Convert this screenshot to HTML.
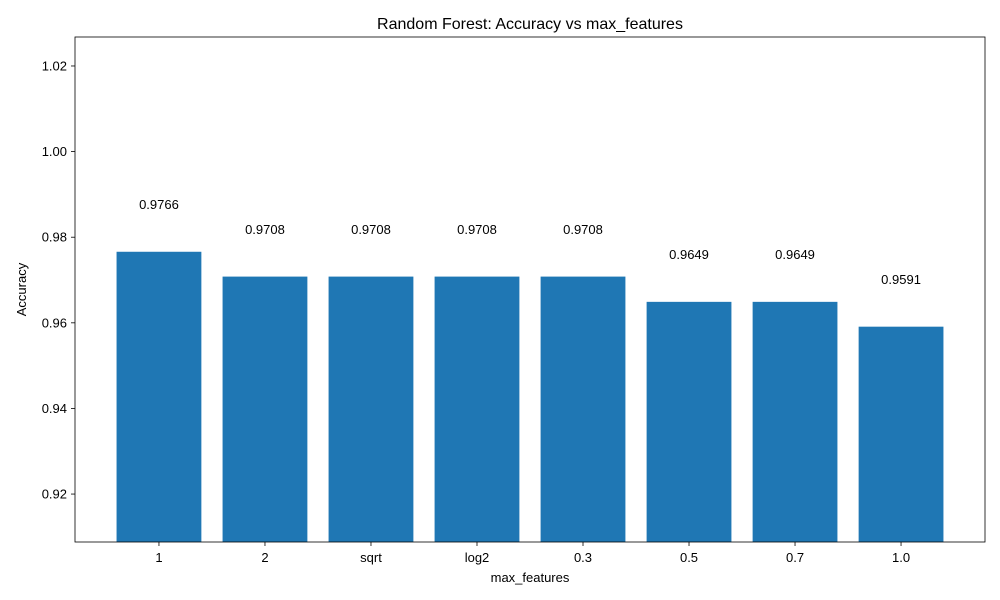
<!DOCTYPE html>
<html><head><meta charset="utf-8">
<style>
html,body{margin:0;padding:0;background:#fff;}
svg{display:block;font-family:"Liberation Sans","DejaVu Sans",sans-serif;}
</style></head>
<body>
<svg id="chart" width="1000" height="600" viewBox="0 0 1000 600"></svg>
<script>
const categories = ["1","2","sqrt","log2","0.3","0.5","0.7","1.0"];
const accuracyValues = [0.9766,0.9708,0.9708,0.9708,0.9708,0.9649,0.9649,0.9591];
const yTickValues = [0.92,0.94,0.96,0.98,1.00,1.02];
const yTickLabels = ["0.92","0.94","0.96","0.98","1.00","1.02"];

const NS="http://www.w3.org/2000/svg";
const svg=document.getElementById('chart');
const L=75,R=985,T=37,B=542;
const yMin=0.90880,yMax=1.02677;
const xMin=-0.792,xMax=categories.length-1+0.792;
function xs(i){return L+(i-xMin)/(xMax-xMin)*(R-L);}
function ys(v){return B-(v-yMin)/(yMax-yMin)*(B-T);}
function mk(tag,attrs,text){const e=document.createElementNS(NS,tag);for(const k in attrs)e.setAttribute(k,attrs[k]);if(text!==undefined)e.textContent=text;svg.appendChild(e);return e;}

const bw=0.8*(R-L)/(xMax-xMin);
categories.forEach((c,i)=>{
  const v=accuracyValues[i];
  const b=mk('rect',{x:xs(i)-bw/2,y:ys(v),width:bw,height:B-ys(v),fill:'#1f77b4'});
  
  
  const t=mk('text',{x:xs(i),y:ys(v+0.01),'text-anchor':'middle','font-size':13,fill:'#000'},v.toFixed(4));
  
  
  const tk=mk('line',{x1:xs(i),x2:xs(i),y1:B,y2:B+4,stroke:'#000','stroke-width':0.8});
  
  
  const tl=mk('text',{x:xs(i),y:B+20,'text-anchor':'middle','font-size':13,fill:'#000'},c);
  
  
});
yTickValues.forEach((v,i)=>{
  const tk=mk('line',{x1:L-4,x2:L,y1:ys(v),y2:ys(v),stroke:'#000','stroke-width':0.8});
  
  
  const tl=mk('text',{x:L-8,y:ys(v)+4.5,'text-anchor':'end','font-size':13,fill:'#000'},yTickLabels[i]);
  
  
});
const frame=mk('rect',{x:L,y:T,width:R-L,height:B-T,fill:'none',stroke:'#000','stroke-width':0.8});


const title=mk('text',{x:(L+R)/2,y:29,'text-anchor':'middle','font-size':16,fill:'#000'},'Random Forest: Accuracy vs max_features');


const xt=mk('text',{x:(L+R)/2,y:582,'text-anchor':'middle','font-size':13,fill:'#000'},'max_features');


const yt=mk('text',{x:26,y:(T+B)/2,'text-anchor':'middle','font-size':13,fill:'#000',transform:'rotate(-90 26 '+((T+B)/2)+')'},'Accuracy');


</script>
</body></html>
